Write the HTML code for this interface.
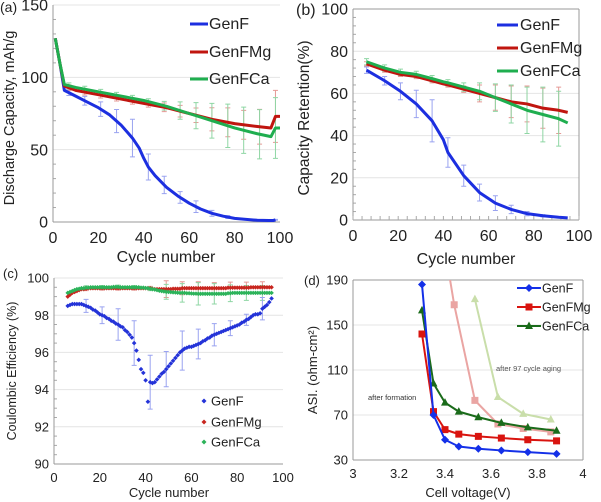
<!DOCTYPE html>
<html><head><meta charset="utf-8"><style>
body{margin:0;background:#fff;}
svg{display:block;font-family:"Liberation Sans",sans-serif;}
</style></head><body>
<svg id="s" width="601" height="502" viewBox="0 0 601 502"></svg>
<script>
// ---------- data ----------
// (a) discharge capacity
const aX=[1,3,5,10,15,20,25,30,35,38,40,42,45,50,55,60,65,70,75,80,85,90,95,97,98];
const aF=[127,110,91,87,83,79,74,67,58,51,44,38,32,24,18,13,9,6,4,2.5,1.8,1.2,1,1,1.5];
const aMgX=[1,3,5,10,20,30,40,50,60,70,80,90,96,98,100];
const aMg=[127,110,94,91,88,85,82,79,75,71,68,66,65,73,73];
const aCa=[127,110,95,93,90,87,84,80,75,70,65,61,59,65,65];
const aErrX=[7,14,21,28,35,42,49,56,63,70,77,84,91,98];
const aFErr=[2,3,5,8,13,9,6,4,4,2,1,0.5,0.3,0.3];
const aMgErr=[2,2,2,2,2,2,3,4,5,8,10,10,12,18];
const aCaErr=[2,2,2,2,2,2,3,6,9,12,15,16,17,21];
// (b) capacity retention
const bX=[6,14,21,28,35,40,42,49,56,63,70,77,84,91,95];
const bF=[71,66,61,55,47,38,32,21,13,8,5,3,2,1.3,1];
const bMg=[74,71,69,68,66,64.5,64,62,60,58,56,55,53,52,51];
const bCa=[75,72,70,69,67,65.5,65,63,61,58,55,52,50,48,46];
const bErrX=[6,14,21,28,35,42,49,56,63,70,77,84,91];
const bFErr=[1.5,2,4,6.5,10,7,5,4,3.5,2,1,0.5,0.3];
const bMgErr=[1,1,1,1,1,1,1.5,4,6,7.5,8.5,9.5,11];
const bCaErr=[1.5,1.5,1.5,1.5,1.5,1.5,2,4,6.5,9,11,13,13];
// (c) coulombic efficiency (cycles 6..95)
const cF=[98.5,98.55,98.6,98.6,98.6,98.6,98.6,98.55,98.5,98.45,98.4,98.3,98.25,98.15,98.05,98.0,97.95,97.85,97.8,97.7,97.65,97.55,97.5,97.4,97.35,97.2,97.1,96.95,96.8,96.5,96.1,95.6,95.1,94.9,94.5,93.35,94.4,94.35,94.4,94.55,94.7,94.85,94.95,95.1,95.25,95.4,95.55,95.7,95.85,96.0,96.1,96.2,96.25,96.3,96.3,96.35,96.4,96.45,96.5,96.6,96.65,96.75,96.8,96.9,96.95,97.0,97.05,97.1,97.15,97.2,97.25,97.3,97.35,97.4,97.45,97.5,97.6,97.65,97.75,97.8,97.9,98.0,98.05,98.05,98.1,98.35,98.45,98.55,98.7,98.9];
const cMg=[99.0,99.1,99.2,99.25,99.3,99.35,99.4,99.4,99.42,99.45,99.45,99.45,99.45,99.45,99.45,99.45,99.45,99.45,99.45,99.45,99.45,99.45,99.45,99.45,99.45,99.45,99.45,99.45,99.45,99.45,99.45,99.45,99.45,99.45,99.45,99.45,99.45,99.42,99.4,99.4,99.4,99.4,99.4,99.4,99.4,99.4,99.42,99.42,99.42,99.42,99.45,99.45,99.45,99.45,99.45,99.45,99.45,99.45,99.45,99.45,99.45,99.45,99.45,99.45,99.45,99.45,99.45,99.45,99.45,99.45,99.48,99.48,99.48,99.48,99.48,99.48,99.48,99.48,99.48,99.48,99.5,99.5,99.5,99.5,99.5,99.5,99.5,99.5,99.5,99.5];
const cCa=[99.2,99.25,99.3,99.35,99.4,99.42,99.45,99.45,99.48,99.48,99.5,99.5,99.5,99.5,99.5,99.5,99.5,99.5,99.5,99.5,99.52,99.52,99.52,99.5,99.5,99.5,99.5,99.5,99.5,99.5,99.5,99.5,99.48,99.48,99.46,99.45,99.42,99.4,99.38,99.35,99.32,99.3,99.28,99.26,99.25,99.24,99.23,99.22,99.21,99.2,99.2,99.2,99.18,99.18,99.17,99.16,99.16,99.15,99.15,99.15,99.15,99.15,99.15,99.15,99.15,99.15,99.15,99.15,99.15,99.15,99.18,99.18,99.2,99.2,99.2,99.2,99.2,99.2,99.2,99.2,99.2,99.2,99.2,99.2,99.2,99.2,99.2,99.2,99.2,99.2];
const cErrX=[14,21,28,35,42,49,56,63,70,77,84,91];
const cFErr=[0.35,0.45,0.85,1.2,1.45,0.95,1.05,0.8,0.6,0.4,0.3,0.6];
const cMgErr=[0.1,0.1,0.1,0.1,0.1,0.45,0.35,0.35,0.3,0.3,0.3,0.3];
const cCaErr=[0.1,0.1,0.1,0.1,0.1,0.4,0.5,0.6,0.55,0.45,0.4,0.4];
// (d) ASI
const dV=[3.30,3.35,3.40,3.46,3.545,3.645,3.76,3.885];
const dF=[186,70,48,42,40,38.5,37,35.5];
const dMg=[142,73,57,53,51,49.5,48,47];
const dCa=[163,98,81,73,68,63,59,56];
const dAgedMgV=[3.41,3.44,3.53,3.63,3.74,3.86];
const dAgedMg=[205,168,83,62,58,55];
const dAgedCaV=[3.53,3.63,3.74,3.86];
const dAgedCa=[173,86,71,66];

// ---------- helpers ----------
const S=document.getElementById('s');
const NS='http://www.w3.org/2000/svg';
function el(tag,attrs,parent){const e=document.createElementNS(NS,tag);for(const k in attrs)e.setAttribute(k,attrs[k]);(parent||S).appendChild(e);return e;}
function txt(x,y,s,size,anchor,extra){const t=el('text',Object.assign({x:x,y:y,'font-size':size,'text-anchor':anchor||'middle',fill:'#222'},extra||{}));t.textContent=s;return t;}
function scale(d0,d1,p0,p1){return v=>p0+(v-d0)/(d1-d0)*(p1-p0);}
function poly(xs,ys,sx,sy,color,w,name,g){const p=el('polyline',{points:xs.map((x,i)=>sx(x)+','+sy(ys[i])).join(' '),fill:'none',stroke:color,'stroke-width':w,'stroke-linejoin':'round'},g);return p;}
function errs(xs,ys,es,sx,sy,color,name,g){xs.forEach((x,i)=>{const X=sx(x),y1=sy(ys[i]-es[i]),y2=sy(ys[i]+es[i]);const e=el('path',{d:`M${X},${y1}V${y2}M${X-2.5},${y1}h5M${X-2.5},${y2}h5`,stroke:color,'stroke-width':1,fill:'none'},g);});}
function interpAt(xs,ys,x){for(let i=0;i<xs.length-1;i++){if(x>=xs[i]&&x<=xs[i+1]){return ys[i]+(ys[i+1]-ys[i])*(x-xs[i])/(xs[i+1]-xs[i]);}}return ys[ys.length-1];}
function axes(g,x0,x1,y0,y1,xt,yt,sx,sy,fs,box,minorY){
  yt.forEach(v=>{el('line',{x1:x0,x2:x1,y1:sy(v),y2:sy(v),stroke:'#e4e4e4','stroke-width':1},g);});
  if(minorY){for(let i=0;i<yt.length-1;i++){for(let k=1;k<minorY;k++){const v=yt[i]+(yt[i+1]-yt[i])*k/minorY;el('line',{x1:x0,x2:x0+3,y1:sy(v),y2:sy(v),stroke:'#aaa'},g);}}}
  el('line',{x1:x0,x2:x0,y1:y0,y2:y1,stroke:'#999','stroke-width':1},g);
  el('line',{x1:x0,x2:x1,y1:y0,y2:y0,stroke:'#999','stroke-width':1},g);
  if(box){el('line',{x1:x1,x2:x1,y1:y0,y2:y1,stroke:'#999'},g);el('line',{x1:x0,x2:x1,y1:y1,y2:y1,stroke:'#999'},g);}
  xt.forEach(v=>{const t=txt(sx(v),y0+fs+5,String(v),fs,'middle',{});});
  yt.forEach(v=>{const t=txt(x0-5,sy(v)+fs*0.35,String(v),fs,'end',{});});
}
function group(name){const g=el('g',{});return g;}

const BLUE='#1c2fe0',RED='#c0150f',GREEN='#1fae4f';

// ---------- panel a ----------
(function(){
const g=group('panel-a-discharge-capacity');
const sx=scale(0,100,53,280), sy=scale(0,150,222,5);
axes(g,53,280,222,5,[0,20,40,60,80,100],[0,50,100,150],sx,sy,16,false,5);
errs(aErrX,aErrX.map(x=>interpAt(aX,aF,x)),aFErr,sx,sy,'#9aa3f0','error-bar-genf',g);
errs(aErrX,aErrX.map(x=>interpAt(aMgX,aMg,x)),aMgErr,sx,sy,'#e59a96','error-bar-genfmg',g);
errs(aErrX,aErrX.map(x=>interpAt(aMgX,aCa,x)),aCaErr,sx,sy,'#8fd6a4','error-bar-genfca',g);
poly(aX,aF,sx,sy,BLUE,3,'line-genf',g);
poly(aMgX,aMg,sx,sy,RED,3,'line-genfmg',g);
poly(aMgX,aCa,sx,sy,GREEN,3,'line-genfca',g);
[['GenF',BLUE,24],['GenFMg',RED,52],['GenFCa',GREEN,79]].forEach(([n,c,y])=>{const l=el('line',{x1:190,x2:208,y1:y,y2:y,stroke:c,'stroke-width':3},g);const t=txt(209,y+5,n,16,'start');});
let t=txt(0,12,'(a)',14,'start');
t=txt(166,262,'Cycle number',16);
t=txt(0,0,'Discharge Capacity, mAh/g',14.5,'middle',{transform:'translate(14,118) rotate(-90)'});
})();

// ---------- panel b ----------
(function(){
const g=group('panel-b-capacity-retention');
const sx=scale(0,100,353,579), sy=scale(0,100,220,9);
axes(g,353,579,220,9,[0,20,40,60,80,100],[0,20,40,60,80,100],sx,sy,16,true,5);
for(let v=0;v<=100;v+=4){el('line',{x1:sx(v),x2:sx(v),y1:220,y2:216,stroke:'#aaa'},g);}
errs(bErrX,bErrX.map(x=>interpAt(bX,bF,x)),bFErr,sx,sy,'#9aa3f0','error-bar-genf',g);
errs(bErrX,bErrX.map(x=>interpAt(bX,bMg,x)),bMgErr,sx,sy,'#e59a96','error-bar-genfmg',g);
errs(bErrX,bErrX.map(x=>interpAt(bX,bCa,x)),bCaErr,sx,sy,'#8fd6a4','error-bar-genfca',g);
poly(bX,bF,sx,sy,BLUE,3,'line-genf',g);
poly(bX,bMg,sx,sy,RED,3,'line-genfmg',g);
poly(bX,bCa,sx,sy,GREEN,3,'line-genfca',g);
[['GenF',BLUE,25],['GenFMg',RED,48],['GenFCa',GREEN,71]].forEach(([n,c,y])=>{const l=el('line',{x1:497,x2:518,y1:y,y2:y,stroke:c,'stroke-width':3},g);const t=txt(520,y+5,n,16,'start');});
let t=txt(296,15,'(b)',16,'start');
t=txt(466,264,'Cycle number',16);
t=txt(0,0,'Capacity Retention(%)',15.5,'middle',{transform:'translate(309,118) rotate(-90)'});
})();

// ---------- panel c ----------
(function(){
const g=group('panel-c-coulombic-efficiency');
const sx=scale(0,100,54,283), sy=scale(90,100,464,278);
axes(g,54,283,464,278,[0,20,40,60,80,100],[90,92,94,96,98,100],sx,sy,13,false,4);
const cyc=cF.map((_,i)=>i+6);
function pts(vals,color,name){vals.forEach((v,i)=>{const X=sx(cyc[i]),Y=sy(v);const p=el('path',{d:`M${X},${Y-2.3}L${X+2.3},${Y}L${X},${Y+2.3}L${X-2.3},${Y}Z`,fill:color},g);});}
errs(cErrX,cErrX.map(x=>cMg[x-6]),cMgErr,sx,sy,'#e59a96','error-bar-genfmg',g);
errs(cErrX,cErrX.map(x=>cCa[x-6]),cCaErr,sx,sy,'#8fd6a4','error-bar-genfca',g);
errs(cErrX,cErrX.map(x=>cF[x-6]),cFErr,sx,sy,'#9aa3f0','error-bar-genf',g);
pts(cMg,'#c8261f','point-genfmg');
pts(cCa,'#2cb35a','point-genfca');
pts(cF,'#2433d8','point-genf');
[['GenF','#2433d8',401],['GenFMg','#c8261f',422],['GenFCa','#2cb35a',442]].forEach(([n,c,y])=>{const p=el('path',{d:`M204,${y-2.5}l2.5,2.5l-2.5,2.5l-2.5,-2.5Z`,fill:c},g);const t=txt(211,y+4.5,n,13,'start');});
let t=txt(3,278,'(c)',13,'start');
t=txt(169,497,'Cycle number',13);
t=txt(0,0,'Coulombic Efficiency (%)',12.5,'middle',{transform:'translate(16,371) rotate(-90)'});
})();

// ---------- panel d ----------
(function(){
const g=group('panel-d-asi');
const sx=scale(3,4,353,583), sy=scale(30,190,460,280);
axes(g,353,583,460,280,[3,3.2,3.4,3.6,3.8,4],[30,70,110,150,190],sx,sy,13,true,0);
const cp=el('clipPath',{id:'dclip'},g);el('rect',{x:353,y:280,width:230,height:180},cp);
const gg=el('g',{'clip-path':'url(#dclip)'},g);
function series(xs,ys,color,marker,name){poly(xs,ys,sx,sy,color,2,'line-'+name,gg);xs.forEach((x,i)=>{const X=sx(x),Y=sy(ys[i]);let m;if(marker==='d')m=el('path',{d:`M${X},${Y-4}L${X+4},${Y}L${X},${Y+4}L${X-4},${Y}Z`,fill:color},gg);else if(marker==='s')m=el('rect',{x:X-3.5,y:Y-3.5,width:7,height:7,fill:color},gg);else m=el('path',{d:`M${X},${Y-4.5}L${X+4},${Y+3}L${X-4},${Y+3}Z`,fill:color},gg);});}
series(dAgedMgV,dAgedMg,'#eaa5a3','s','genfmg-aged');
series(dAgedCaV,dAgedCa,'#c9deaa','t','genfca-aged');
series(dV,dCa,'#1a6b1a','t','genfca');
series(dV,dMg,'#d9140f','s','genfmg');
series(dV,dF,'#1430e8','d','genf');
[['GenF','#1430e8','d',288],['GenFMg','#d9140f','s',307],['GenFCa','#1a6b1a','t',326]].forEach(([n,c,m,y])=>{const l=el('line',{x1:517,x2:541,y1:y,y2:y,stroke:c,'stroke-width':2},g);const X=529;if(m==='d')el('path',{d:`M${X},${y-4}L${X+4},${y}L${X},${y+4}L${X-4},${y}Z`,fill:c},g);else if(m==='s')el('rect',{x:X-3.5,y:y-3.5,width:7,height:7,fill:c},g);else el('path',{d:`M${X},${y-4.5}L${X+4},${y+3}L${X-4},${y+3}Z`,fill:c},g);const t=txt(542,y+4.5,n,12.5,'start');});
let t=txt(368,400,'after formation',7.5,'start',{fill:'#333'});
t=txt(496,371,'after 97 cycle aging',7.5,'start',{fill:'#555'});
t=txt(304,285,'(d)',13,'start');
t=txt(468,497,'Cell voltage(V)',13);
t=txt(0,0,'ASI. (ohm-cm²)',13,'middle',{transform:'translate(317,370) rotate(-90)'});
})();
</script>
</body></html>
